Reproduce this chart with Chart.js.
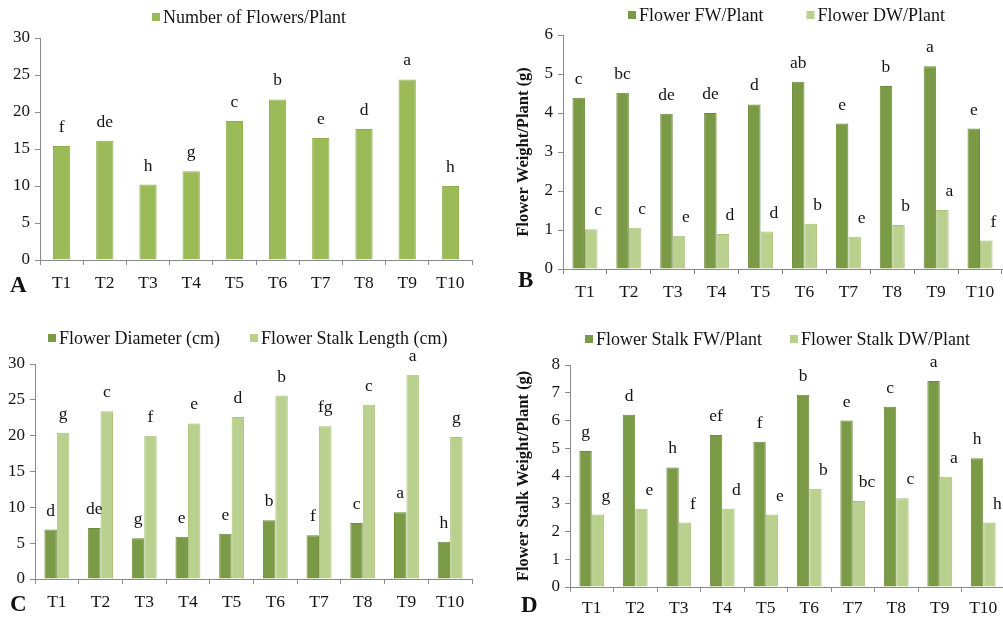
<!DOCTYPE html>
<html>
<head>
<meta charset="utf-8">
<script src="https://cdn.jsdelivr.net/npm/chart.js@4.4.0/dist/chart.umd.min.js"></script>
<style>
  html, body { margin: 0; padding: 0; background: #fff; overflow: hidden; width: 1003px; height: 617px; }
  canvas { position: absolute; }
  .tag { position: absolute; font-family: "Liberation Serif", "Times New Roman", serif; font-weight: bold; font-size: 23px; color: #111; line-height: 1; }
</style>
</head>
<body>
<canvas id="panelA" width="500" height="300" style="left:0;top:0"></canvas>
<canvas id="panelB" width="510" height="300" style="left:500px;top:0"></canvas>
<canvas id="panelC" width="500" height="317" style="left:0;top:300px"></canvas>
<canvas id="panelD" width="510" height="317" style="left:500px;top:300px"></canvas>
<div class="tag" style="left:10px;top:273px">A</div>
<div class="tag" style="left:518px;top:268px">B</div>
<div class="tag" style="left:10px;top:592px">C</div>
<div class="tag" style="left:521px;top:593px">D</div>
<script>
// Treatments on the x axis
const treatments = ['T1', 'T2', 'T3', 'T4', 'T5', 'T6', 'T7', 'T8', 'T9', 'T10'];

// A: number of flowers per plant
const flowersPerPlant = [15.4, 16.1, 10.2, 12.0, 18.8, 21.7, 16.5, 17.7, 24.4, 10.0];
const flowersLetters  = ['f', 'de', 'h', 'g', 'c', 'b', 'e', 'd', 'a', 'h'];

// B: flower fresh / dry weight per plant (g)
const flowerFW        = [4.39, 4.52, 3.98, 4.00, 4.22, 4.80, 3.73, 4.69, 5.20, 3.60];
const flowerFWLetters = ['c', 'bc', 'de', 'de', 'd', 'ab', 'e', 'b', 'a', 'e'];
const flowerDW        = [1.02, 1.06, 0.85, 0.90, 0.96, 1.16, 0.83, 1.13, 1.51, 0.73];
const flowerDWLetters = ['c', 'c', 'e', 'd', 'd', 'b', 'e', 'b', 'a', 'f'];

// C: flower diameter and flower stalk length (cm)
const flowerDiameter     = [6.9, 7.1, 5.7, 5.9, 6.3, 8.2, 6.1, 7.8, 9.3, 5.2];
const diameterLetters    = ['d', 'de', 'g', 'e', 'e', 'b', 'f', 'c', 'a', 'h'];
const stalkLength        = [20.4, 23.4, 20.0, 21.7, 22.6, 25.6, 21.3, 24.3, 28.5, 19.8];
const stalkLengthLetters = ['g', 'c', 'f', 'e', 'd', 'b', 'fg', 'c', 'a', 'g'];

// D: flower stalk fresh / dry weight per plant (g)
const stalkFW        = [4.90, 6.21, 4.31, 5.48, 5.23, 6.93, 6.00, 6.50, 7.42, 4.64];
const stalkFWLetters = ['g', 'd', 'h', 'ef', 'f', 'b', 'e', 'c', 'a', 'h'];
const stalkDW        = [2.61, 2.82, 2.32, 2.82, 2.61, 3.54, 3.10, 3.20, 3.97, 2.32];
const stalkDWLetters = ['g', 'e', 'f', 'd', 'e', 'b', 'bc', 'c', 'a', 'h'];

const SERIF = '"Liberation Serif", "Times New Roman", serif';
const TEXT = '#141414';
const AXIS = '#8a8a8a';
const GREEN = '#9bbb59', GREEN_EDGE = '#8fae50';
const DARK = '#7b9a45', DARK_EDGE = '#6c8a3b';
const LIGHT = '#bad08f', LIGHT_EDGE = '#a9c27c';

// Significance letters above each bar
const letterPlugin = {
  id: 'letters',
  afterDatasetsDraw(chart, args, opts) {
    const ctx = chart.ctx;
    ctx.save();
    ctx.font = '17.5px ' + SERIF;
    ctx.fillStyle = TEXT;
    ctx.textAlign = 'center';
    ctx.textBaseline = 'alphabetic';
    chart.data.datasets.forEach((ds, i) => {
      const meta = chart.getDatasetMeta(i);
      const shift = (opts.shift || [])[i] || 0;
      meta.data.forEach((bar, j) => {
        ctx.fillText(ds.letters[j], bar.x + shift, bar.y - 14);
      });
    });
    ctx.restore();
  }
};

// Row legend with small square swatches
const rowLegend = {
  id: 'rowLegend',
  afterDraw(chart, args, opts) {
    const ctx = chart.ctx;
    ctx.save();
    ctx.font = '18px ' + SERIF;
    ctx.textBaseline = 'middle';
    ctx.textAlign = 'left';
    let x = opts.x;
    const y = opts.y, box = 8;
    chart.data.datasets.forEach(ds => {
      ctx.fillStyle = ds.backgroundColor;
      ctx.fillRect(x, y - box / 2, box, box);
      x += box + 3;
      ctx.fillStyle = TEXT;
      ctx.fillText(ds.label, x, y + 1);
      x += ctx.measureText(ds.label).width + opts.gap;
    });
    ctx.restore();
  }
};

function makeChart(id, cfg) {
  const datasets = cfg.series.map(s => ({
    label: s.label,
    data: s.data,
    letters: s.letters,
    backgroundColor: s.color,
    borderColor: s.edge,
    borderWidth: 1,
    categoryPercentage: cfg.catPct,
    barPercentage: 1
  }));
  return new Chart(document.getElementById(id), {
    type: 'bar',
    data: { labels: treatments, datasets },
    plugins: [letterPlugin, rowLegend],
    options: {
      responsive: false,
      animation: false,
      devicePixelRatio: 1,
      layout: { padding: cfg.padding },
      plugins: {
        legend: { display: false },
        tooltip: { enabled: false },
        letters: { shift: cfg.shift },
        rowLegend: cfg.legend
      },
      scales: {
        x: {
          grid: { offset: true, drawOnChartArea: false, tickLength: 5, color: AXIS },
          border: { color: AXIS },
          ticks: { color: TEXT, font: { family: SERIF, size: 17.5 }, padding: cfg.xPad, maxRotation: 0 },
          afterFit: s => { s.height = cfg.xHeight; }
        },
        y: {
          min: 0,
          max: cfg.yMax,
          grid: { drawOnChartArea: false, tickLength: 5, color: AXIS },
          border: { color: AXIS },
          ticks: { stepSize: cfg.step, color: TEXT, font: { family: SERIF, size: 17 }, padding: 5 },
          title: cfg.yTitle ? {
            display: true, text: cfg.yTitle, color: TEXT, padding: 0,
            font: { family: SERIF, size: 16.5, weight: 'bold' }
          } : { display: false },
          afterFit: s => { s.width = cfg.yWidth; }
        }
      }
    }
  });
}

makeChart('panelA', {
  series: [{ label: 'Number of Flowers/Plant', data: flowersPerPlant, letters: flowersLetters, color: GREEN, edge: GREEN_EDGE }],
  catPct: 0.4, yMax: 30, step: 5,
  padding: { left: 0, right: 28, top: 38, bottom: 0 },
  yWidth: 40, xHeight: 40, xPad: 8,
  legend: { x: 152, y: 17, gap: 40 }
});

makeChart('panelB', {
  series: [
    { label: 'Flower FW/Plant', data: flowerFW, letters: flowerFWLetters, color: DARK, edge: DARK_EDGE },
    { label: 'Flower DW/Plant', data: flowerDW, letters: flowerDWLetters, color: LIGHT, edge: LIGHT_EDGE }
  ],
  catPct: 0.57, yMax: 6, step: 1, shift: [0, 7],
  yTitle: 'Flower Weight/Plant (g)',
  padding: { left: 14, right: 8, top: 35, bottom: 0 },
  yWidth: 49, xHeight: 31, xPad: 8,
  legend: { x: 128, y: 15, gap: 43 }
});

makeChart('panelC', {
  series: [
    { label: 'Flower Diameter (cm)', data: flowerDiameter, letters: diameterLetters, color: DARK, edge: DARK_EDGE },
    { label: 'Flower Stalk Length (cm)', data: stalkLength, letters: stalkLengthLetters, color: LIGHT, edge: LIGHT_EDGE }
  ],
  catPct: 0.57, yMax: 30, step: 5,
  padding: { left: 0, right: 28, top: 64, bottom: 0 },
  yWidth: 35, xHeight: 38, xPad: 8,
  legend: { x: 48, y: 38, gap: 30 }
});

makeChart('panelD', {
  series: [
    { label: 'Flower Stalk FW/Plant', data: stalkFW, letters: stalkFWLetters, color: DARK, edge: DARK_EDGE },
    { label: 'Flower Stalk DW/Plant', data: stalkDW, letters: stalkDWLetters, color: LIGHT, edge: LIGHT_EDGE }
  ],
  catPct: 0.57, yMax: 8, step: 1, shift: [0, 8],
  yTitle: 'Flower Stalk Weight/Plant (g)',
  padding: { left: 14, right: 5, top: 65, bottom: 0 },
  yWidth: 56, xHeight: 30, xPad: 6,
  legend: { x: 85, y: 39, gap: 28 }
});
</script>
</body>
</html>
